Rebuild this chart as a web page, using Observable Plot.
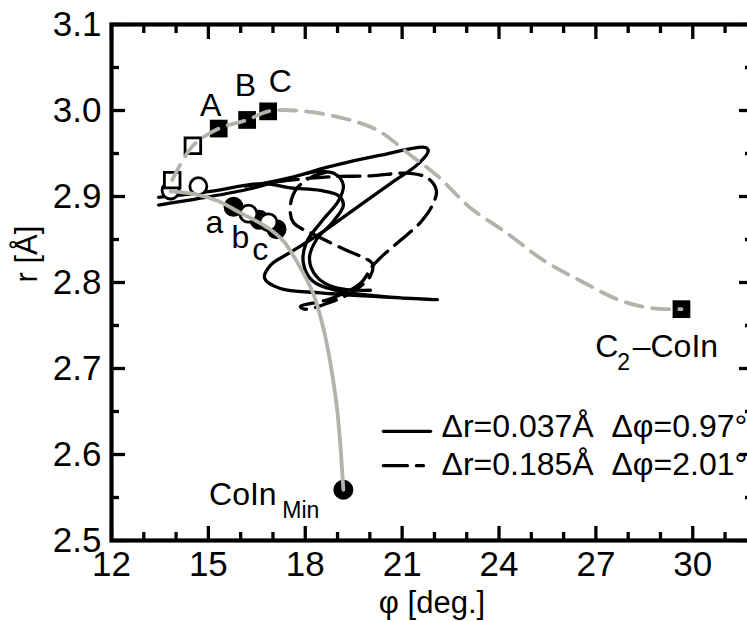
<!DOCTYPE html>
<html>
<head>
<meta charset="utf-8">
<script src="https://cdn.jsdelivr.net/npm/d3@7"></script>
<script src="https://cdn.jsdelivr.net/npm/@observablehq/plot@0.6"></script>
<style>
  html, body { margin: 0; padding: 0; background: #fff; overflow: hidden; width: 747px; height: 621px; }
  #chart { width: 760px; height: 621px; overflow: hidden; }
  #chart svg { max-width: none !important; width: 760px !important; height: 621px !important; }
</style>
</head>
<body>
<div id="chart"></div>
<script>
// ---- ticks ----
const xTicksMajor = [12, 15, 18, 21, 24, 27, 30];
const xTicksMinor = [13, 14, 16, 17, 19, 20, 22, 23, 25, 26, 28, 29, 31];
const yTicksMajor = [2.5, 2.6, 2.7, 2.8, 2.9, 3.0, 3.1];
const yTicksMinor = [2.55, 2.65, 2.75, 2.85, 2.95, 3.05];

// ---- gray dashed path (towards C2-CoIn) ----
const pathCPhi = [13.88, 14.52, 15.32, 16.20, 16.85, 17.70, 19.18, 20.24, 21.26, 22.09, 23.11, 24.26, 25.37, 26.52, 27.76, 28.78, 29.65];
const pathCR   = [2.919, 2.959, 2.979, 2.989, 2.999, 3.000, 2.991, 2.977, 2.948, 2.924, 2.887, 2.857, 2.826, 2.802, 2.779, 2.770, 2.769];

// ---- gray solid path (towards CoIn_Min) ----
const pathMinPhi = [13.83, 14.54, 15.28, 15.99, 16.83, 17.33, 17.85, 18.25, 18.56, 18.78, 19.00, 19.18];
const pathMinR   = [2.906, 2.903, 2.895, 2.881, 2.864, 2.848, 2.817, 2.787, 2.747, 2.706, 2.648, 2.559];

// ---- black solid trajectory (two drawn pieces) ----
const solid1Phi = [13.46, 15.07, 16.67, 17.54, 18.47, 19.03, 19.18, 18.87, 18.35, 18.13, 18.35, 18.93, 20.02];
const solid1R   = [2.899, 2.906, 2.915, 2.910, 2.907, 2.901, 2.890, 2.871, 2.850, 2.828, 2.807, 2.794, 2.791];
const solid2Phi = [13.46, 14.76, 16.30, 17.54, 18.41, 18.93, 19.18, 19.03, 18.53, 18.04, 17.94, 18.22, 18.93, 20.64, 22.09, 20.48, 18.47, 17.23, 16.74, 16.92, 17.54, 18.47, 19.55, 20.64, 21.50, 21.81, 21.72, 20.33, 18.78, 17.54, 16.67];
const solid2R   = [2.890, 2.898, 2.909, 2.922, 2.929, 2.926, 2.913, 2.895, 2.872, 2.847, 2.823, 2.802, 2.791, 2.783, 2.780, 2.783, 2.788, 2.793, 2.805, 2.820, 2.835, 2.857, 2.886, 2.915, 2.938, 2.953, 2.957, 2.948, 2.935, 2.922, 2.915];

// ---- black dashed trajectory ----
const dashPhi = [16.15, 17.54, 18.78, 20.02, 21.26, 21.81, 22.06, 21.94, 21.57, 20.95, 20.39, 20.08, 19.71, 18.78, 17.85, 17.98, 18.78, 19.55, 20.02, 20.08, 19.86, 19.24, 18.32, 17.63, 17.54, 17.73, 18.16, 18.63];
const dashR   = [2.912, 2.919, 2.923, 2.924, 2.927, 2.921, 2.907, 2.890, 2.870, 2.849, 2.831, 2.819, 2.799, 2.781, 2.772, 2.769, 2.777, 2.791, 2.808, 2.822, 2.828, 2.838, 2.855, 2.870, 2.890, 2.909, 2.922, 2.928];

// ---- markers ----
const openSqPhi = [13.88, 14.52];
const openSqR   = [2.919, 2.959];
const fillSqPhi = [15.32, 16.20, 16.85, 29.65];
const fillSqR   = [2.979, 2.989, 2.999, 2.769];
const openCirPhi = [13.83, 14.69, 16.24, 16.86];
const openCirR   = [2.907, 2.912, 2.880, 2.870];
const fillCirPhi = [15.78, 16.58, 17.11, 19.18];
const fillCirR   = [2.888, 2.873, 2.862, 2.559];

// ---- point labels ----
const labelText = ["A", "B", "C", "a", "b", "c"];
const labelPhi  = [15.07, 16.15, 17.23, 15.19, 15.99, 16.61];
const labelR    = [2.994, 3.017, 3.021, 2.857, 2.840, 2.826];

const noteText = ["CoIn", "C", "\u2013CoIn"];
const notePhi  = [15.02, 26.98, 28.14];
const noteR    = [2.541, 2.713, 2.713];
const subText  = ["Min", "2"];
const subPhi   = [17.29, 27.66];
const subR     = [2.526, 2.698];

// ---- legend ----
const legendText = ["\u0394r=0.037\u00C5\u00A0\u00A0\u0394\u03C6=0.97\u00B0", "\u0394r=0.185\u00C5\u00A0\u00A0\u0394\u03C6=2.01\u00B0"];
const legendLinePhi = [[20.42, 21.88], [20.42, 21.66]];
const legendLineR = [2.627, 2.587];
const legendTextPhi = [22.22, 22.22];
const legendTextR = [2.620, 2.576];

const xTitle = "\u03C6 [deg.]";
const yTitle = "r [\u00C5]";

// ---- tables ----
const zip = (a, b, extra = {}) => a.map((v, i) => ({phi: v, r: b[i], ...extra}));
const solidData = [...zip(solid1Phi, solid1R, {seg: 1}), ...zip(solid2Phi, solid2R, {seg: 2})];
const dashData = zip(dashPhi, dashR);
const pathC = zip(pathCPhi, pathCR);
const pathMin = zip(pathMinPhi, pathMinR);
const labels = labelText.map((t, i) => ({t, phi: labelPhi[i], r: labelR[i]}));
const notes = noteText.map((t, i) => ({t, phi: notePhi[i], r: noteR[i]}));
const subs = subText.map((t, i) => ({t, phi: subPhi[i], r: subR[i]}));
const legSolid = legendLinePhi[0].map(p => ({phi: p, r: legendLineR[0]}));
const legDash = legendLinePhi[1].map(p => ({phi: p, r: legendLineR[1]}));
const legTexts = legendText.map((t, i) => ({t, phi: legendTextPhi[i], r: legendTextR[i]}));

const FONT = "'Liberation Sans', Arial, Helvetica, sans-serif";
const GRAY = "#b3b3ab";
const blank = () => "";

const plot = Plot.plot({
  width: 760,
  height: 621,
  marginLeft: 111,
  marginRight: 8,
  marginTop: 24,
  marginBottom: 81,
  x: {domain: [12, 31.85], label: null},
  y: {domain: [2.5, 3.1], label: null},
  style: {fontFamily: FONT, background: "white", color: "black", overflow: "hidden", maxWidth: "none"},
  marks: [
    // trajectories
    Plot.line(solidData, {x: "phi", y: "r", z: "seg", stroke: "black", strokeWidth: 3.3, curve: "catmull-rom"}),
    Plot.line(dashData, {x: "phi", y: "r", stroke: "black", strokeWidth: 3.3, strokeDasharray: "22,9", curve: "catmull-rom"}),
    // markers
    Plot.dot(zip(fillCirPhi, fillCirR), {x: "phi", y: "r", r: 10, fill: "black", stroke: "none"}),
    Plot.dot(zip(openCirPhi, openCirR), {x: "phi", y: "r", r: 8.5, fill: "white", stroke: "black", strokeWidth: 2.8}),
    Plot.dot(zip(openSqPhi, openSqR), {x: "phi", y: "r", symbol: "square", r: 8.8, fill: "white", stroke: "black", strokeWidth: 2.8}),
    Plot.dot(zip(fillSqPhi, fillSqR), {x: "phi", y: "r", symbol: "square", r: 10, fill: "black", stroke: "none"}),
    // gray reaction paths
    Plot.line(pathC, {x: "phi", y: "r", stroke: GRAY, strokeWidth: 3.8, strokeDasharray: "17,10", curve: "catmull-rom"}),
    Plot.line(pathMin, {x: "phi", y: "r", stroke: GRAY, strokeWidth: 3.8, curve: "catmull-rom"}),
    // labels
    Plot.text(labels, {x: "phi", y: "r", text: "t", fontSize: 32, lineAnchor: "bottom", textAnchor: "middle", fill: "black"}),
    Plot.text(notes, {x: "phi", y: "r", text: "t", fontSize: 32, lineAnchor: "bottom", textAnchor: "start", fill: "black"}),
    Plot.text(subs, {x: "phi", y: "r", text: "t", fontSize: 23, lineAnchor: "bottom", textAnchor: "start", fill: "black"}),
    // legend
    Plot.line(legSolid, {x: "phi", y: "r", stroke: "black", strokeWidth: 3.3}),
    Plot.line(legDash, {x: "phi", y: "r", stroke: "black", strokeWidth: 3.3, strokeDasharray: "24,9"}),
    Plot.text(legTexts, {x: "phi", y: "r", text: "t", fontSize: 32, lineAnchor: "bottom", textAnchor: "start", fill: "black"}),
    // axes: labels
    Plot.axisX(xTicksMajor, {anchor: "bottom", tickSize: 0, tickPadding: 11, fontSize: 35, label: null}),
    Plot.axisY(yTicksMajor, {anchor: "left", tickSize: 0, tickPadding: 10, fontSize: 35, label: null, tickFormat: d3.format(".1f")}),
    // axes: inward ticks
    Plot.axisX(xTicksMajor, {anchor: "bottom", tickSize: -14, strokeWidth: 3.3, tickFormat: blank, label: null}),
    Plot.axisX(xTicksMinor, {anchor: "bottom", tickSize: -8, strokeWidth: 3.3, tickFormat: blank, label: null}),
    Plot.axisX(xTicksMajor, {anchor: "top", tickSize: -14, strokeWidth: 3.3, tickFormat: blank, label: null}),
    Plot.axisX(xTicksMinor, {anchor: "top", tickSize: -8, strokeWidth: 3.3, tickFormat: blank, label: null}),
    Plot.axisY(yTicksMajor, {anchor: "left", tickSize: -14, strokeWidth: 3.3, tickFormat: blank, label: null}),
    Plot.axisY(yTicksMinor, {anchor: "left", tickSize: -8, strokeWidth: 3.3, tickFormat: blank, label: null}),
    Plot.axisY(yTicksMajor, {anchor: "right", tickSize: -14, strokeWidth: 3.3, tickFormat: blank, label: null}),
    Plot.axisY(yTicksMinor, {anchor: "right", tickSize: -8, strokeWidth: 3.3, tickFormat: blank, label: null}),
    Plot.frame({stroke: "black", strokeWidth: 4.2}),
    // axis titles
    Plot.text([xTitle], {frameAnchor: "bottom", text: d => d, dy: 72, lineAnchor: "bottom", fontSize: 31, fill: "black"}),
    Plot.text([yTitle], {frameAnchor: "left", text: d => d, dx: -84, rotate: -90, fontSize: 31, fill: "black"})
  ]
});
document.getElementById("chart").appendChild(plot);
</script>
</body>
</html>
